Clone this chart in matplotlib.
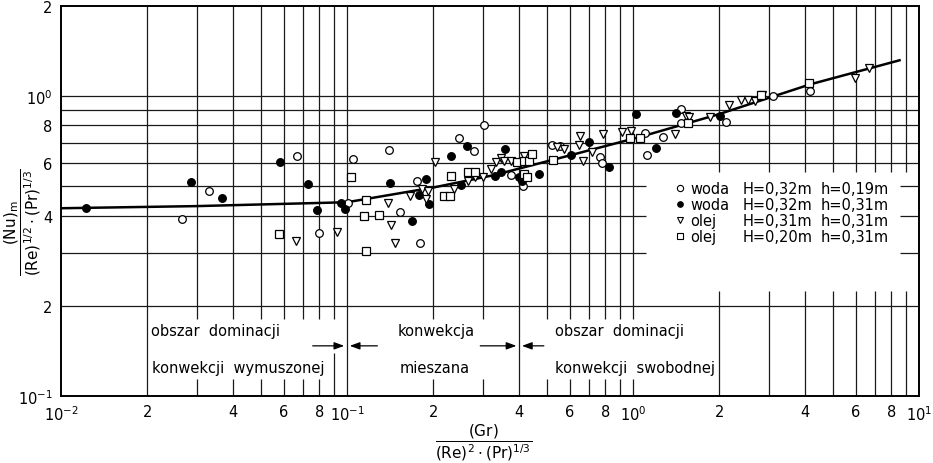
import matplotlib
matplotlib.use("Agg")
import matplotlib.pyplot as plt
from matplotlib.ticker import NullLocator

plt.rcParams['font.family'] = ['DejaVu Sans']
plt.rcParams['mathtext.fontset'] = 'dejavusans'

# ---- data -------------------------------------------------------------------
# o  woda  H=0,32m  h=0,19m
woda1_x = [0.0265, 0.0328, 0.067, 0.080, 0.101, 0.105, 0.140, 0.1535, 0.176,
           0.180, 0.247, 0.277, 0.302, 0.373, 0.411, 0.52, 0.556, 0.766, 0.778,
           1.104, 1.122, 1.269, 1.471, 1.471, 2.113, 3.086, 4.17]
woda1_y = [0.389, 0.483, 0.631, 0.349, 0.440, 0.617, 0.661, 0.411, 0.521,
           0.324, 0.724, 0.655, 0.80, 0.545, 0.501, 0.687, 0.681, 0.626, 0.598,
           0.753, 0.636, 0.730, 0.905, 0.813, 0.819, 1.0, 1.04]

# *  woda  H=0,32m  h=0,31m
woda2_x = [0.01226, 0.0284, 0.0366, 0.0582, 0.073, 0.0784, 0.0954, 0.0985,
           0.1415, 0.169, 0.179, 0.189, 0.194, 0.2317, 0.2513, 0.2636, 0.328,
           0.3443, 0.358, 0.398, 0.408, 0.468, 0.606, 0.701, 0.824, 1.025,
           1.208, 1.412, 2.01]
woda2_y = [0.423, 0.517, 0.458, 0.603, 0.509, 0.417, 0.440, 0.420,
           0.513, 0.383, 0.468, 0.529, 0.437, 0.631, 0.505, 0.681, 0.541,
           0.558, 0.666, 0.537, 0.521, 0.549, 0.636, 0.703, 0.580, 0.871,
           0.671, 0.878, 0.858]

# v  olej  H=0,31m  h=0,31m
olej1_x = [0.0664, 0.0924, 0.139, 0.1427, 0.1474, 0.1664, 0.183, 0.189, 0.192,
           0.2025, 0.2374, 0.2656, 0.2813, 0.2977, 0.3176, 0.3327, 0.3443,
           0.353, 0.3757, 0.4146, 0.541, 0.573, 0.6465, 0.652, 0.6685, 0.7185,
           0.784, 0.915, 0.984, 1.401, 1.533, 1.572, 1.853, 2.164, 2.391,
           2.534, 2.66, 2.82, 5.96, 6.68]
olej1_y = [0.329, 0.352, 0.440, 0.372, 0.324, 0.464, 0.490, 0.454, 0.483,
           0.603, 0.490, 0.521, 0.537, 0.537, 0.571, 0.603, 0.621,
           0.607, 0.607, 0.631, 0.676, 0.666, 0.687, 0.736, 0.607, 0.650,
           0.747, 0.758, 0.764, 0.747, 0.858, 0.851, 0.851, 0.933, 0.970,
           0.970, 0.962, 1.008, 1.148, 1.24]

# []  olej  H=0,20m  h=0,31m
olej2_x = [0.0577, 0.1033, 0.1147, 0.1166, 0.1166, 0.1295, 0.219, 0.230,
           0.2317, 0.2656, 0.2813, 0.3917, 0.4146, 0.4146, 0.425, 0.432,
           0.4423, 0.525, 0.976, 1.059, 1.56, 2.796, 4.115]
olej2_y = [0.346, 0.537, 0.398, 0.450, 0.304, 0.401, 0.464, 0.464,
           0.541, 0.558, 0.558, 0.603, 0.607, 0.549, 0.537, 0.607,
           0.641, 0.612, 0.724, 0.724, 0.813, 1.008, 1.105]

# correlation curve
fit_x = [0.01, 0.0298, 0.1, 0.2025, 0.325, 0.606, 1.05, 1.995, 4.17, 8.55]
fit_y = [0.423, 0.430, 0.443, 0.497, 0.545, 0.636, 0.730, 0.871, 1.096, 1.318]

legend_rows = [("o", "woda", "H=0,32m", "h=0,19m"),
               ("f", "woda", "H=0,32m", "h=0,31m"),
               ("v", "olej", "H=0,31m", "h=0,31m"),
               ("s", "olej", "H=0,20m", "h=0,31m")]

xticks = [0.01, 0.02, 0.04, 0.06, 0.08, 0.1, 0.2, 0.4, 0.6, 0.8,
          1, 2, 4, 6, 8, 10]
xlabels = [r'$10^{-2}$', '2', '4', '6', '8', r'$10^{-1}$', '2', '4', '6', '8',
           r'$10^{0}$', '2', '4', '6', '8', r'$10^{1}$']
yticks = [0.1, 0.2, 0.4, 0.6, 0.8, 1, 2]
ylabels = [r'$10^{-1}$', '2', '4', '6', '8', r'$10^{0}$', '2']

# ---- figure -----------------------------------------------------------------
fig = plt.figure(figsize=(9.33, 4.64), dpi=100)
ax = fig.add_axes([61/933, 67/464, 858/933, 390/464])
ax.set_xscale('log')
ax.set_yscale('log')
ax.set_xlim(0.01, 10)
ax.set_ylim(0.1, 2)
ax.set_xticks(xticks, xlabels)
ax.set_yticks(yticks, ylabels)
ax.xaxis.set_minor_locator(NullLocator())
ax.yaxis.set_minor_locator(NullLocator())
ax.tick_params(length=0, pad=6, labelsize=10.5)
for s in ax.spines.values():
    s.set_linewidth(1.4)

# broken grid, as in the printed nomogram
gkw = dict(color='#1a1a1a', lw=0.9, zorder=1)
xgrid = [m * d for d in (0.01, 0.1, 1) for m in range(1, 10)][1:]
for x in xgrid:
    if x in (0.02, 0.1, 0.4):
        ax.vlines(x, 0.1, 2, **gkw)
    elif x >= 2:
        ax.vlines(x, 0.558, 2, **gkw)
        ax.vlines(x, 0.1, 0.224, **gkw)
    else:
        ax.vlines(x, 0.181, 2, **gkw)
        ax.vlines(x, 0.1, 0.139 if abs(x - 0.09) < 1e-9 else 0.114, **gkw)

for y in [0.2, 0.3, 0.4, 0.5, 0.6, 0.7, 0.8, 0.9, 1.0]:
    if y in (0.3, 0.4, 0.5):
        ax.hlines(y, 0.01, 1.11, **gkw)
        ax.hlines(y, 8.55, 10, **gkw)
    else:
        ax.hlines(y, 0.01, 10, **gkw)

ax.plot(fit_x, fit_y, color='black', lw=1.8, zorder=3)

mk = dict(ls='none', mec='black', mew=0.9, zorder=4)
ax.plot(woda1_x, woda1_y, marker='o', ms=5.5, mfc='white', **mk)
ax.plot(woda2_x, woda2_y, marker='o', ms=5.5, mfc='black', **mk)
ax.plot(olej1_x, olej1_y, marker='v', ms=6, mfc='white', **mk)
ax.plot(olej2_x, olej2_y, marker='s', ms=5.5, mfc='white', **mk)

# legend block
styles = {"o": ('o', 'white', 4.5), "f": ('o', 'black', 4),
          "v": ('v', 'white', 5), "s": ('s', 'white', 5)}
for i, (key, fluid, H, h) in enumerate(legend_rows):
    yy = 0.533 - i * 0.041
    m, fc, ms = styles[key]
    ax.plot([0.721], [yy], transform=ax.transAxes, marker=m, ms=ms, mfc=fc,
            mec='black', mew=0.8, ls='none', clip_on=False, zorder=5)
    ax.text(0.733, yy, fluid, transform=ax.transAxes, va='center', fontsize=10.5)
    ax.text(0.795, yy, H, transform=ax.transAxes, va='center', fontsize=10.5)
    ax.text(0.885, yy, h, transform=ax.transAxes, va='center', fontsize=10.5)

# regime labels
tkw = dict(transform=ax.transAxes, va='center', ha='left', fontsize=10.5)
ax.text(0.105, 0.169, 'obszar  dominacji', **tkw)
ax.text(0.106, 0.074, 'konwekcji  wymuszonej', **tkw)
ax.text(0.392, 0.169, 'konwekcja', **tkw)
ax.text(0.395, 0.074, 'mieszana', **tkw)
ax.text(0.576, 0.169, 'obszar  dominacji', **tkw)
ax.text(0.576, 0.074, 'konwekcji  swobodnej', **tkw)

akw = dict(arrowstyle='-|>,head_length=0.6,head_width=0.22', color='black', lw=0.9)
for x0, x1, xm in [(0.0742, 0.1306, 0.1), (0.2859, 0.499, 0.4)]:
    ax.annotate('', xy=(xm, 0.147), xytext=(x0, 0.147), arrowprops=akw, zorder=5)
    ax.annotate('', xy=(xm, 0.147), xytext=(x1, 0.147), arrowprops=akw, zorder=5)

ax.text(-0.045, 0.449,
        r'$\dfrac{(\mathrm{Nu})_\mathrm{m}}{(\mathrm{Re})^{1/2}\cdot(\mathrm{Pr})^{1/3}}$',
        transform=ax.transAxes, rotation=90, ha='center', va='center', fontsize=11)
ax.text(0.492, -0.118,
        r'$\dfrac{(\mathrm{Gr})}{(\mathrm{Re})^{2}\cdot(\mathrm{Pr})^{1/3}}$',
        transform=ax.transAxes, ha='center', va='center', fontsize=11)

fig.savefig("out.png", dpi=100)
